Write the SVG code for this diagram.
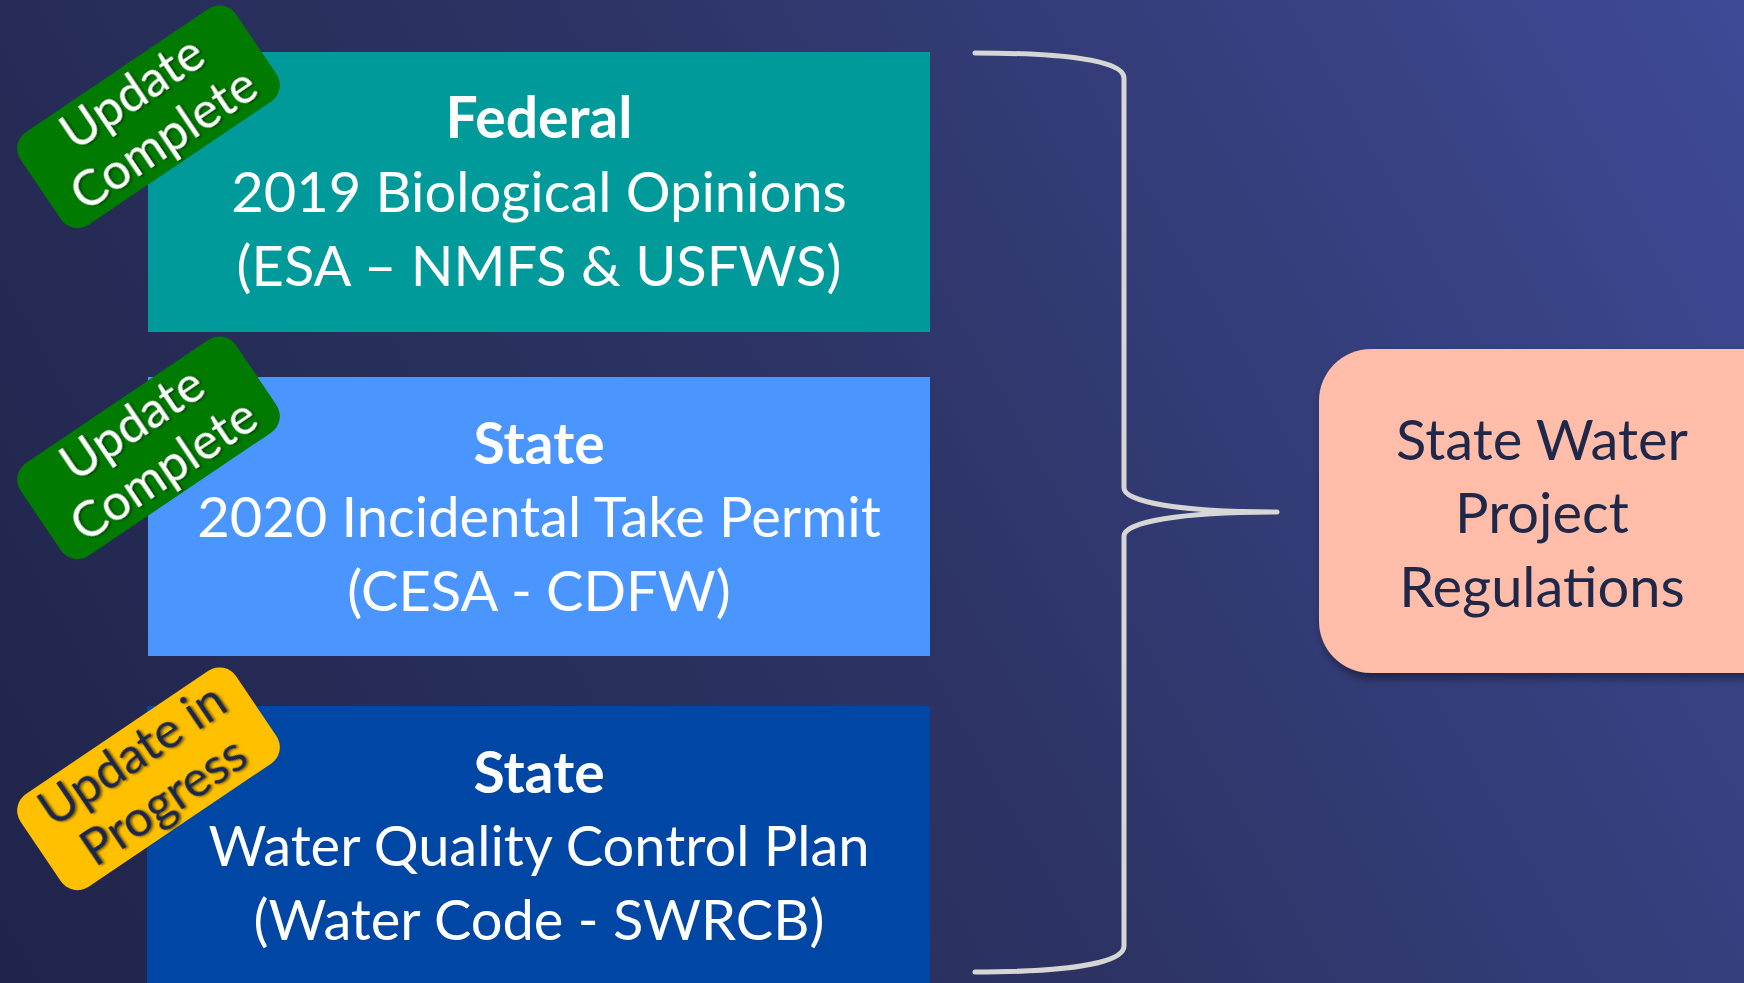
<svg xmlns="http://www.w3.org/2000/svg" width="1744" height="983" viewBox="0 0 1744 983">
  <defs>
    <linearGradient id="bg" x1="0" y1="983" x2="1744" y2="0" gradientUnits="userSpaceOnUse">
      <stop offset="0" stop-color="#20244A"/>
      <stop offset="0.5" stop-color="#2D3465"/>
      <stop offset="1" stop-color="#3E4A96"/>
    </linearGradient>
    <filter id="boxShadow" x="-20%" y="-20%" width="140%" height="140%">
      <feDropShadow dx="3" dy="5" stdDeviation="5" flood-color="#000" flood-opacity="0.45"/>
    </filter>
    <filter id="txtShadow" x="-10%" y="-20%" width="120%" height="140%">
      <feDropShadow dx="1.5" dy="1.5" stdDeviation="1" flood-color="#000" flood-opacity="0.55"/>
    </filter>
  </defs>
  <style>
    .t { font-family: Lato, "Open Sans", sans-serif; text-anchor: middle; }
    .body { font-size: 56px; fill: #FFFFFF; }
    .head { font-size: 57px; font-weight: bold; fill: #FFFFFF; }
    .dark { fill: #1F2849; }
    .badge { font-size: 50px; }
    .brace { fill: none; stroke: #D6D7D4; stroke-width: 5; stroke-linecap: round; stroke-linejoin: round; }
  </style>

  <rect x="0" y="0" width="1744" height="983" fill="url(#bg)"/>

  <g id="node-federal">
    <rect x="148" y="52" width="782" height="280" fill="#009A9A"/>
    <text class="t head" x="539" y="138">Federal</text>
    <text class="t body" x="539" y="212">2019 Biological Opinions</text>
    <text class="t body" x="539" y="286">(ESA – NMFS &amp; USFWS)</text>
  </g>

  <g id="node-state-itp">
    <rect x="148" y="377" width="782" height="279" fill="#4A96FE"/>
    <text class="t head" x="539" y="464">State</text>
    <text class="t body" x="539" y="537">2020 Incidental Take Permit</text>
    <text class="t body" x="539" y="611">(CESA - CDFW)</text>
  </g>

  <g id="node-state-wqcp">
    <rect x="147" y="706" width="783" height="290" fill="#0046A4"/>
    <text class="t head" x="539" y="793">State</text>
    <text class="t body" x="539" y="866">Water Quality Control Plan</text>
    <text class="t body" x="539" y="940">(Water Code - SWRCB)</text>
  </g>

  <g id="badge-federal" transform="translate(148.5 116.8) rotate(-34)">
    <rect x="-130" y="-56" width="260" height="112" rx="20" ry="20" fill="#007A00"/>
    <g filter="url(#txtShadow)" fill="#FFFFFF">
      <text class="t badge" x="0" y="-12">Update</text>
      <text class="t badge" x="0" y="44">Complete</text>
    </g>
  </g>

  <g id="badge-state-itp" transform="translate(148.5 447.8) rotate(-34)">
    <rect x="-130" y="-56" width="260" height="112" rx="20" ry="20" fill="#007A00"/>
    <g filter="url(#txtShadow)" fill="#FFFFFF">
      <text class="t badge" x="0" y="-12">Update</text>
      <text class="t badge" x="0" y="44">Complete</text>
    </g>
  </g>

  <g id="badge-state-wqcp" transform="translate(148.5 778.8) rotate(-34)">
    <rect x="-130" y="-56" width="260" height="112" rx="20" ry="20" fill="#FFC000"/>
    <g filter="url(#txtShadow)" fill="#1F2849">
      <text class="t badge" x="0" y="-12">Update in</text>
      <text class="t badge" x="0" y="44">Progress</text>
    </g>
  </g>

  <g id="node-swp">
    <rect x="1319" y="349" width="520" height="324" rx="52" ry="52" fill="#FFBDAA" filter="url(#boxShadow)"/>
    <text class="t body dark" x="1542" y="460">State Water</text>
    <text class="t body dark" x="1542" y="533">Project</text>
    <text class="t body dark" x="1542" y="607">Regulations</text>
  </g>

  <g id="connectors">
    <path class="brace" d="M 975 53 C 1062 53 1124 60 1124 78 L 1124 488 C 1124 502 1180 512 1277 512 C 1180 512 1124 522 1124 536 L 1124 946 C 1124 964 1062 972 975 972"/>
  </g>
</svg>
